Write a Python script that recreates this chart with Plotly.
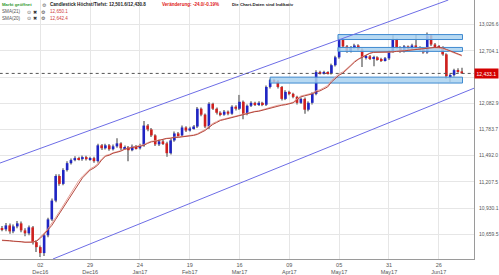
import math
import plotly.graph_objects as go

# ---------------- data ----------------
open_ = [10720,10710,10750,10689,10740,10771,10699,10669,10730,10579,
 10529,10469,10649,10812,11008,11271,11186,11335,11410,11443,
 11465,11454,11476,11454,11465,11432,11606,11574,11606,11563,
 11595,11628,11574,11584,11552,11595,11574,11606,11828,11784,
 11717,11617,11650,11628,11519,11661,11739,11717,11806,11772,
 11795,11817,12020,11952,11817,12077,12020,11974,11952,11986,
 11963,12043,12020,12100,11963,12054,12088,12066,12088,12066,
 12273,12354,12343,12273,12134,12215,12192,12157,12088,12134,
 12009,12088,12192,12449,12437,12449,12437,12531,12626,12843,
 12758,12698,12746,12770,12722,12626,12638,12614,12626,12602,
 12590,12614,12698,12843,12746,12698,12758,12734,12770,12746,
 12722,12686,12892,12782,12758,12746,12662,12401,12413,12472,
 12457]
close = [10710,10750,10689,10740,10771,10699,10669,10730,10579,10529,
 10469,10649,10812,11008,11271,11186,11335,11410,11443,11465,
 11454,11476,11454,11465,11432,11606,11574,11606,11563,11595,
 11628,11574,11584,11552,11595,11574,11606,11828,11784,11717,
 11617,11650,11628,11519,11661,11739,11717,11806,11772,11795,
 11817,12020,11952,11817,12077,12020,11974,11952,11986,11963,
 12043,12020,12100,11963,12054,12088,12066,12088,12066,12273,
 12354,12343,12273,12134,12215,12192,12157,12088,12134,12009,
 12088,12192,12449,12437,12449,12437,12531,12626,12843,12758,
 12698,12746,12770,12722,12626,12638,12614,12626,12602,12590,
 12614,12698,12843,12746,12698,12758,12734,12770,12746,12722,
 12686,12892,12782,12758,12746,12662,12401,12413,12472,12457,
 12433.1]
high = [10745,10775,10770,10760,10795,10790,10720,10750,10745,10600,
 10545,10665,10830,11030,11290,11290,11355,11430,11460,11485,
 11480,11495,11490,11480,11480,11625,11620,11625,11620,11615,
 11684,11640,11605,11600,11615,11610,11625,11880,11845,11800,
 11730,11670,11665,11645,11680,11760,11755,11830,11820,11815,
 11835,12040,12035,11965,12095,12090,12035,11990,12005,12000,
 12060,12060,12180,12115,12070,12105,12100,12105,12100,12290,
 12370,12370,12355,12285,12235,12230,12205,12170,12150,12150,
 12105,12210,12470,12465,12465,12460,12550,12645,12870,12860,
 12775,12765,12790,12785,12735,12655,12655,12645,12640,12620,
 12630,12715,12895,12855,12760,12775,12770,12790,12900,12760,
 12735,12930,12905,12800,12775,12760,12675,12430,12490,12495,
 12501.6]
low = [10690,10690,10665,10670,10720,10680,10640,10650,10555,10480,
 10430,10440,10630,10795,10990,11165,11170,11320,11395,11430,
 11440,11435,11440,11435,11415,11415,11555,11560,11545,11550,
 11580,11555,11560,11432,11540,11560,11560,11590,11765,11700,
 11600,11600,11610,11480,11505,11645,11700,11700,11755,11760,
 11780,11800,11935,11800,11790,12005,11955,11935,11940,11945,
 11950,12000,12005,11900,11945,12040,12050,12050,12050,12050,
 12255,12325,12255,12115,12120,12175,12140,12070,12075,11963,
 11990,12070,12175,12420,12420,12420,12420,12515,12610,12740,
 12680,12685,12730,12705,12510,12600,12595,12520,12585,12570,
 12575,12595,12680,12730,12680,12685,12715,12715,12730,12705,
 12670,12670,12765,12740,12730,12645,12366,12330,12395,12440,
 12430.8]
sma21 = [10599,10599,10594,10589,10589,10584,10579,10579,10579,10589,
 10619,10659,10700,10750,10812,10873,10935,10997,11070,11133,
 11197,11250,11292,11335,11357,11389,11443,11486,11497,11519,
 11530,11541,11563,11574,11584,11590,11595,11606,11628,11645,
 11650,11661,11672,11684,11684,11695,11695,11700,11706,11706,
 11717,11728,11750,11772,11806,11840,11862,11885,11896,11907,
 11918,11935,11941,11952,11963,11974,11986,11991,12003,12020,
 12031,12043,12054,12060,12066,12077,12088,12123,12157,12169,
 12180,12192,12215,12227,12250,12273,12331,12378,12413,12437,
 12484,12519,12567,12602,12626,12650,12674,12686,12686,12686,
 12686,12686,12692,12698,12698,12704,12710,12716,12722,12728,
 12734,12740,12746,12746,12746,12740,12722,12704,12686,12668,
 12650.1]
sma20 = [10595,10596,10591,10587,10588,10582,10577,10578,10580,10592,
 10628,10672,10716,10768,10832,10894,10957,11020,11092,11155,
 11218,11268,11308,11348,11370,11403,11455,11494,11505,11525,
 11535,11548,11567,11578,11588,11594,11600,11614,11636,11652,
 11656,11666,11676,11686,11688,11698,11699,11704,11709,11710,
 11722,11736,11760,11784,11820,11852,11873,11894,11903,11914,
 11924,11940,11947,11957,11967,11978,11990,11996,12008,12028,
 12040,12051,12060,12064,12070,12082,12096,12134,12168,12178,
 12188,12201,12228,12240,12264,12290,12350,12396,12430,12452,
 12498,12532,12578,12611,12633,12655,12677,12688,12687,12686,
 12686,12687,12694,12700,12699,12705,12711,12717,12723,12728,
 12734,12739,12744,12743,12742,12735,12716,12697,12678,12660,
 12642.4]
idx = list(range(len(close)))

tick_pos = [10, 23, 36, 49, 62, 75, 88, 101, 114]
tick_day = ["02", "29", "24", "19", "16", "09", "05", "31", "26"]
tick_mon = ["Dec16", "Dec16", "Jan17", "Feb17", "Mar17", "Apr17", "May17", "May17", "Jun17"]

y_ticks = [13026.6, 12704.1, 12389.4, 12082.9, 11783.7, 11492.0, 11207.5, 10930.1, 10659.5]
# the 12,389.4 label sits behind the last-price tag in the reference
y_labels = ["13,026.6", "12,704.1", "", "12,082.9", "11,783.7", "11,492.0", "11,207.5", "10,930.1", "10,659.5"]

# channel (trend) lines: endpoints [index, price]
chan_up_x = [-0.6, 116.5]
chan_up_y = [11410, 13338]
chan_lo_x = [13.3, 123.4]
chan_lo_y = [10410, 12262]

# zones: (x_start, x_end, price_low, price_high)
zones = [
    (87.7, 120.2, 12843, 12904),
    (87.7, 120.2, 12698, 12746),
    (70.0, 120.2, 12319, 12389),
]
last_price = 12433.1

UP, DOWN = "#1f25c4", "#d0201e"

# ---------------- figure ----------------
fig = go.Figure()

# wicks (high-low range)
fig.add_trace(go.Bar(x=idx, y=[h - l for h, l in zip(high, low)], base=low,
                     width=0.28, marker=dict(color="#9a9a9a", line=dict(width=0)),
                     hoverinfo="skip"))
# bodies (open-close range)
fig.add_trace(go.Bar(x=idx,
                     y=[max(abs(c - o), 4) for o, c in zip(open_, close)],
                     base=[min(o, c) for o, c in zip(open_, close)],
                     width=0.68,
                     marker=dict(color=[UP if c >= o else DOWN for o, c in zip(open_, close)],
                                 line=dict(width=0)),
                     hoverinfo="skip"))

# zones
for x0, x1, p0, p1 in zones:
    fig.add_trace(go.Scatter(x=[x0, x1, x1, x0, x0], y=[p0, p0, p1, p1, p0],
                             mode="lines", fill="toself",
                             fillcolor="rgba(170,210,240,0.85)",
                             line=dict(color="#3f8ad0", width=1), hoverinfo="skip"))

# SMA lines
fig.add_trace(go.Scatter(x=idx, y=sma20, mode="lines", line=dict(color="#e8a59c", width=1)))
fig.add_trace(go.Scatter(x=idx, y=sma21, mode="lines", line=dict(color="#b5473d", width=1)))

# channel lines
fig.add_trace(go.Scatter(x=chan_up_x, y=chan_up_y, mode="lines", line=dict(color="#6d6de6", width=1)))
fig.add_trace(go.Scatter(x=chan_lo_x, y=chan_lo_y, mode="lines", line=dict(color="#6d6de6", width=1)))

# last price dotted line
fig.add_trace(go.Scatter(x=[-0.6, 123.4], y=[last_price, last_price], mode="lines",
                         line=dict(color="#555555", width=1, dash="dot")))

W, H = 499, 275
ML, MR, MT, MB = 0, 25, 0, 13
PW, PH = W - ML - MR, H - MT - MB

fig.update_layout(
    width=W, height=H,
    margin=dict(l=ML, r=MR, t=MT, b=MB, pad=0),
    paper_bgcolor="white", plot_bgcolor="white",
    showlegend=False,
    barmode="overlay",
    font=dict(family="Liberation Sans, Arial, sans-serif", color="#555"),
    xaxis=dict(range=[-0.52, 123.2], tickvals=tick_pos,
               ticktext=[f"{d}<br>{m}" for d, m in zip(tick_day, tick_mon)],
               showgrid=True, gridcolor="#e6e6e6", gridwidth=1,
               showline=True, linecolor="#9a9a9a", linewidth=1,
               zeroline=False, ticks="", tickfont=dict(size=5.5, color="#555"),
               fixedrange=True),
    yaxis=dict(type="log", side="right",
               range=[math.log10(10410), math.log10(13338)],
               tickvals=y_ticks, ticktext=y_labels,
               showgrid=True, gridcolor="#e6e6e6", gridwidth=1,
               showline=True, linecolor="#9a9a9a", linewidth=1,
               zeroline=False, ticks="", ticklabelstandoff=3,
               tickfont=dict(size=5, color="#555")),
)

def px(x):
    return x / PW

def py(y):
    return 1 - y / PH

def note(x, y, text, color="#333", size=4.6, bold=False):
    t = f"<b>{text}</b>" if bold else text
    fig.add_annotation(xref="paper", yref="paper", x=px(x), y=py(y), text=t,
                       showarrow=False, xanchor="left", yanchor="middle",
                       font=dict(size=size, color=color), borderpad=0)

note(1, 5, "Markt geöffnet", "#2f9a2f", 4.3, True)
note(41, 5, "⚙", "#666", 5)
note(49, 5, "Candlestick Höchst/Tiefst: 12,501.6/12,430.8", "#222", 4.6, True)
note(161, 5, "Veränderung: -24.0/-0.19%", "#e02020", 4.6, True)
note(231, 5, "Die Chart-Daten sind Indikativ", "#222", 4.3, True)

for yy, name, val in [(12, "SMA(21)", "12,650.1"), (18.5, "SMA(20)", "12,642.4")]:
    note(1, yy, name, "#555", 4.6)
    note(26, yy, "⊙", "#555", 5)
    note(32, yy, "✖", "#333", 5)
    note(40, yy, "⚙", "#444", 5)
    note(49, yy, val, "#d04040", 4.6)

# last price label on the axis
fig.add_annotation(xref="paper", yref="y", x=1.0, y=math.log10(last_price),
                   text=f"{last_price:,.1f}", showarrow=False, xanchor="left", yanchor="middle",
                   bgcolor="#d40000", font=dict(size=5, color="white"), borderpad=1.5)

fig.write_html("out.html")
